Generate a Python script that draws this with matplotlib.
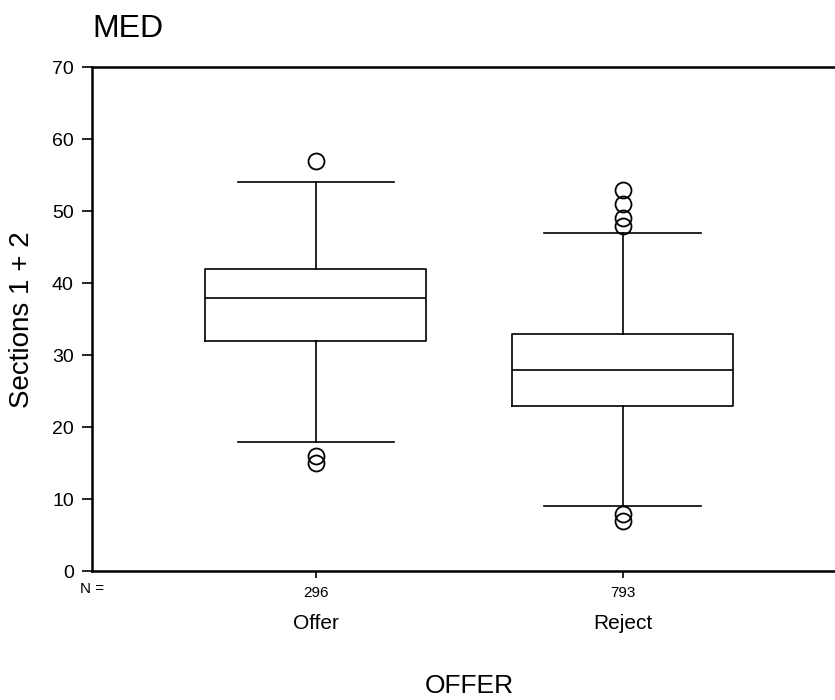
import matplotlib
matplotlib.use('Agg')
import matplotlib.pyplot as plt
import matplotlib.transforms as mtransforms

plt.rcParams['font.family'] = ['Liberation Sans', 'DejaVu Sans']

# box summaries
groups = ['Offer', 'Reject']
counts = [296, 793]
medians = [38, 28]
q1s = [32, 23]
q3s = [42, 33]
whisk_lo = [18, 9]
whisk_hi = [54, 47]
outliers = [[57, 16, 15], [53, 51, 49, 48, 8, 7]]

stats = []
for i in range(len(groups)):
    stats.append({'med': medians[i], 'q1': q1s[i], 'q3': q3s[i],
                  'whislo': whisk_lo[i], 'whishi': whisk_hi[i],
                  'fliers': outliers[i], 'label': str(counts[i])})

fig = plt.figure(figsize=(8.35, 7), dpi=100)
ax = fig.add_axes([0.110, 0.184, 0.904, 0.720])

lw = 1.2
ax.bxp(stats, positions=[1, 2], widths=0.72,
       boxprops=dict(color='black', linewidth=lw),
       medianprops=dict(color='black', linewidth=lw),
       whiskerprops=dict(color='black', linewidth=lw),
       capprops=dict(color='black', linewidth=lw),
       capwidths=0.51,
       flierprops=dict(marker='o', markersize=11.5, markerfacecolor='none',
                       markeredgecolor='black', markeredgewidth=1.3))

ax.set_xlim(0.27, 2.73)
ax.set_ylim(0, 70)
ax.set_yticks(range(0, 71, 10))
ax.tick_params(axis='y', direction='out', length=7, width=1.2, labelsize=14, pad=6)
ax.tick_params(axis='x', direction='out', length=5, width=1.2, labelsize=11, pad=6)

for side in ['left', 'bottom', 'top']:
    ax.spines[side].set_linewidth(1.8)
ax.spines['right'].set_visible(False)

trans = mtransforms.blended_transform_factory(ax.transData, ax.transAxes)
for i, g in enumerate(groups):
    ax.text(i + 1, -0.103, g, transform=trans, ha='center', va='center', fontsize=15)
ax.text(0.27, -0.036, 'N =', transform=trans, ha='center', va='center', fontsize=11)

ax.set_ylabel('Sections 1 + 2', fontsize=20, labelpad=12)
ax.set_xlabel('OFFER', fontsize=19, labelpad=53)
fig.text(0.111, 0.958, 'MED', fontsize=23, ha='left', va='center')

plt.savefig('out.png', dpi=100)
